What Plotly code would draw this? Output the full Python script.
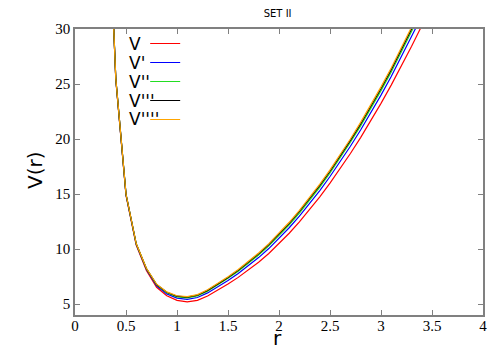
import plotly.graph_objects as go

r = [0.3, 0.4, 0.5, 0.6, 0.7, 0.8, 0.9, 1.0, 1.1, 1.2, 1.3, 1.4, 1.5, 1.6, 1.7, 1.8,
     1.9, 2.0, 2.1, 2.2, 2.3, 2.4, 2.5, 2.6, 2.7, 2.8, 2.9, 3.0, 3.1, 3.2, 3.3, 3.4]

v0 = [47.9, 25.4, 14.88, 10.35, 8.05, 6.52, 5.75, 5.33, 5.20, 5.33, 5.73, 6.26, 6.81, 7.42,
      8.08, 8.80, 9.59, 10.47, 11.43, 12.46, 13.56, 14.74, 15.99, 17.30, 18.68, 20.13,
      21.65, 23.24, 24.90, 26.63, 28.43, 30.30]
v1 = [47.95, 25.45, 14.94, 10.42, 8.15, 6.66, 5.92, 5.54, 5.43, 5.59, 6.01, 6.57, 7.14, 7.78,
      8.47, 9.22, 10.04, 10.94, 11.93, 12.98, 14.11, 15.31, 16.59, 17.93, 19.34, 20.82,
      22.37, 23.99, 25.68, 27.44, 29.27, 31.17]
v2 = [47.98, 25.48, 14.97, 10.47, 8.2, 6.74, 6.02, 5.65, 5.56, 5.73, 6.17, 6.74, 7.33, 7.97,
      8.68, 9.45, 10.28, 11.2, 12.2, 13.27, 14.41, 15.63, 16.91, 18.27, 19.7, 21.19,
      22.76, 24.4, 26.1, 27.88, 29.72, 31.64]
v3 = [47.99, 25.49, 14.99, 10.49, 8.23, 6.77, 6.07, 5.71, 5.62, 5.8, 6.24, 6.82, 7.41, 8.07,
      8.78, 9.56, 10.4, 11.33, 12.33, 13.41, 14.55, 15.78, 17.07, 18.43, 19.87, 21.37,
      22.95, 24.59, 26.3, 28.09, 29.94, 31.87]
v4 = [48.0, 25.5, 15.0, 10.5, 8.25, 6.8, 6.1, 5.75, 5.67, 5.85, 6.3, 6.88, 7.48, 8.14,
      8.86, 9.64, 10.49, 11.42, 12.43, 13.51, 14.66, 15.89, 17.19, 18.56, 20.0, 21.51,
      23.09, 24.74, 26.46, 28.25, 30.11, 32.04]

labels = ["V", "V'", "V''", "V'''", "V''''"]
colors = ["#ff0000", "#0000ff", "#22dd22", "#000000", "#ffa500"]
series = [v0, v1, v2, v3, v4]

fig = go.Figure()
for lab, col, ys in zip(labels, colors, series):
    fig.add_trace(go.Scatter(x=r, y=ys, mode="lines", name="",
                             line=dict(color=col, width=1.2), showlegend=True))

# gnuplot style key: text to the left of the sample line
for i, lab in enumerate(labels):
    fig.add_annotation(text=lab, xref="paper", yref="paper", x=0.128, y=0.948 - i * 0.066,
                       xanchor="left", yanchor="middle", showarrow=False,
                       font=dict(family="DejaVu Sans", size=17, color="black"))

# axis titles as annotations so the plot box keeps its size
title_font = dict(family="DejaVu Sans", size=20, color="black")
fig.add_annotation(text="r", xref="paper", yref="paper", x=0.4975, y=-0.08,
                   xanchor="center", yanchor="middle", showarrow=False, font=title_font,
                   borderpad=0)
fig.add_annotation(text="V(r)", xref="paper", yref="paper", x=-0.098, y=0.507, textangle=-90,
                   xanchor="center", yanchor="middle", showarrow=False, font=title_font)

axis_common = dict(showline=True, linecolor="#808080", linewidth=1.5, mirror="ticks",
                   ticks="inside", ticklen=5, tickcolor="#808080", showgrid=False,
                   zeroline=False, automargin=False,
                   tickfont=dict(family="Liberation Serif", size=15, color="black"))

fig.update_xaxes(range=[0, 4], dtick=0.5, ticklabelstandoff=-4, **axis_common)
fig.update_yaxes(range=[4, 30], tickvals=[5, 10, 15, 20, 25, 30], **axis_common)

# the page body adds 8 px, so the figure is a little smaller than the window
fig.update_layout(
    width=492, height=342,
    margin=dict(l=67, r=17, t=21, b=35),
    plot_bgcolor="white", paper_bgcolor="white",
    title=dict(text="SET II", x=0.548, xanchor="center", y=0.985, yanchor="middle",
               font=dict(family="DejaVu Sans", size=10, color="black")),
    legend=dict(x=0.172, y=1.0, xanchor="left", yanchor="top", bgcolor="rgba(0,0,0,0)",
                font=dict(size=12), tracegroupgap=0, itemwidth=30),
)

fig.write_html("out.html")
